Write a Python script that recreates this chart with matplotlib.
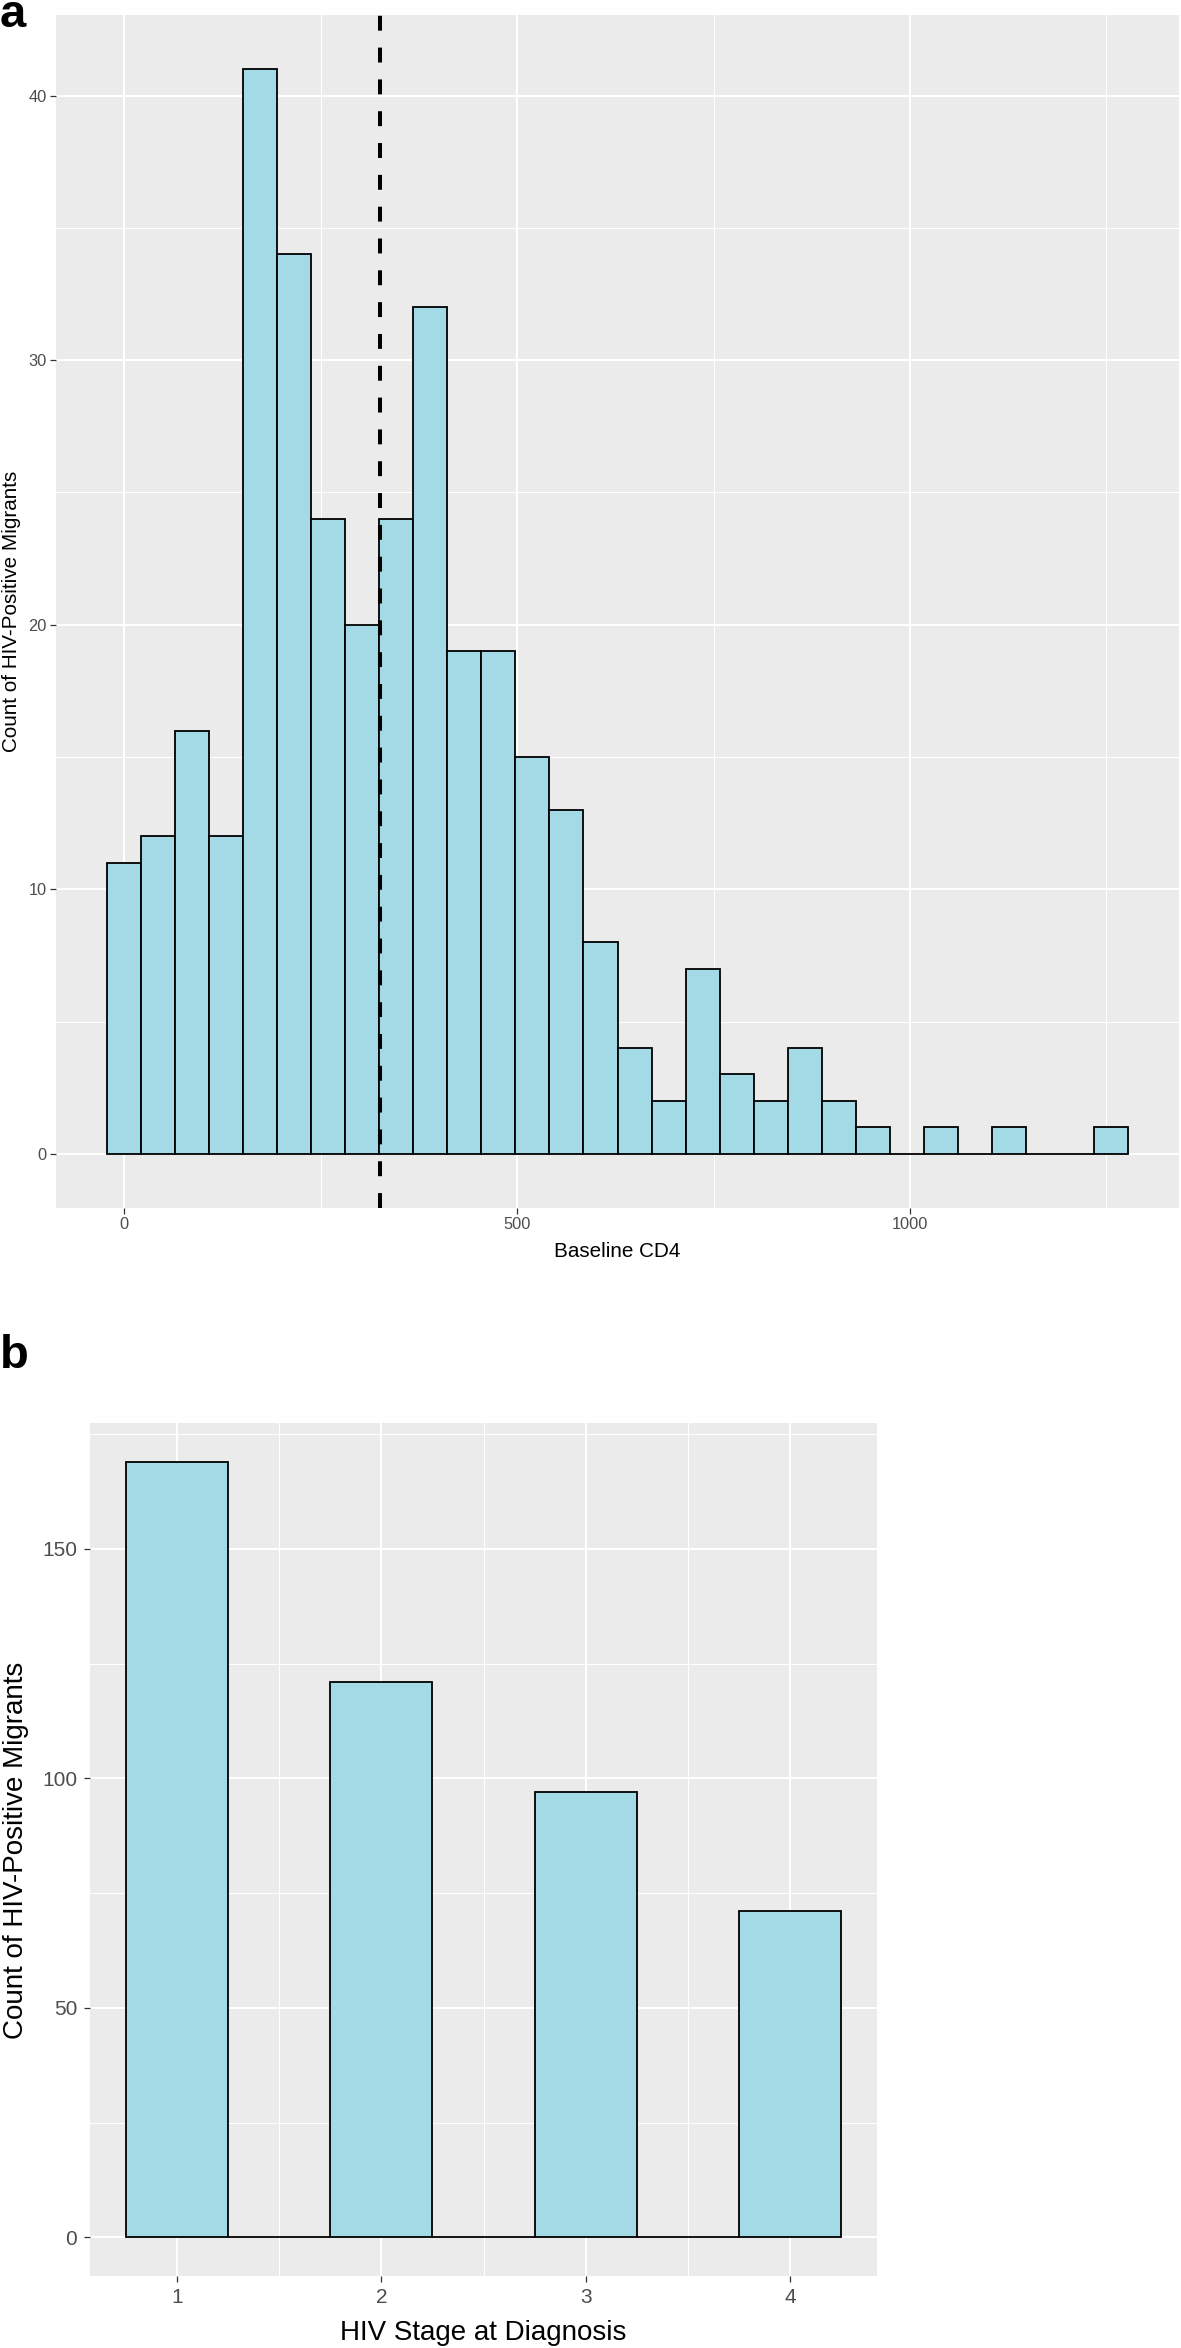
import numpy as np
import matplotlib
matplotlib.use('Agg')  # no display
import matplotlib.pyplot as plt
from matplotlib.ticker import MultipleLocator

plt.rcParams['font.family'] = ['Liberation Sans', 'DejaVu Sans']

# panel a: baseline CD4 histogram (30 bins, centres on multiples of the width)
cd4_bin_width = 43.3
cd4_counts = [11, 12, 16, 12, 41, 34, 24, 20, 24, 32, 19, 19, 15, 13, 8,
              4, 2, 7, 3, 2, 4, 2, 1, 0, 1, 0, 1, 0, 0, 1]
cd4_median = 326

# panel b: HIV stage at diagnosis (histogram, binwidth 0.5)
stage_bins = [1, 1.5, 2, 2.5, 3, 3.5, 4]
stage_counts = [169, 0, 121, 0, 97, 0, 71]
stage_bin_width = 0.5

FILL = '#A4D9E6'
PANEL = '#EBEBEB'
W, H = 1181, 2348


def fx(x):
    return x / W


def fy(y):
    return 1 - y / H


def gg_style(ax, tick_size, pad_x, pad_y):
    ax.set_facecolor(PANEL)
    for s in ax.spines.values():
        s.set_visible(False)
    ax.grid(which='major', color='white', linewidth=1.5)
    ax.grid(which='minor', color='white', linewidth=0.75)
    ax.set_axisbelow(True)
    ax.tick_params(which='major', length=4.3, width=0.9, color='#333333',
                   labelcolor='#4D4D4D', labelsize=tick_size)
    ax.tick_params(axis='x', which='major', pad=pad_x)
    ax.tick_params(axis='y', which='major', pad=pad_y)
    ax.tick_params(which='minor', length=0)


def expand(lo, hi, frac=0.05):
    d = (hi - lo) * frac
    return lo - d, hi + d


fig = plt.figure(figsize=(W / 100, H / 100), dpi=100)

# ---- panel a
ax1 = fig.add_axes([fx(56), fy(1208), fx(1179) - fx(56), fy(15) - fy(1208)])
edges = cd4_bin_width * (np.arange(len(cd4_counts)) - 0.5)
ax1.bar(edges, cd4_counts, width=cd4_bin_width, align='edge', color=FILL,
        edgecolor='black', linewidth=1.3, zorder=2)
ax1.axvline(cd4_median, color='black', linestyle=(0, (3.7, 4.2)),
            linewidth=2.9, zorder=3)
ax1.set_xlim(*expand(edges[0], edges[-1] + cd4_bin_width))
ax1.set_ylim(*expand(0, max(cd4_counts)))
ax1.xaxis.set_major_locator(MultipleLocator(500))
ax1.xaxis.set_minor_locator(MultipleLocator(250))
ax1.yaxis.set_major_locator(MultipleLocator(10))
ax1.yaxis.set_minor_locator(MultipleLocator(5))
gg_style(ax1, 11.8, 2.2, 2.2)

fig.text(fx(617), fy(1257), 'Baseline CD4', ha='center', va='baseline',
         fontsize=14.9)
fig.text(fx(12), fy(611), 'Count of HIV-Positive Migrants', rotation=90,
         ha='center', va='center', fontsize=14.9)
fig.text(0, fy(27), 'a', ha='left', va='baseline', fontsize=34,
         fontweight='bold')

# ---- panel b
ax2 = fig.add_axes([fx(90), fy(2276), fx(877) - fx(90), fy(1423) - fy(2276)])
ax2.bar(stage_bins, stage_counts, width=stage_bin_width, color=FILL,
        edgecolor='black', linewidth=1.3, zorder=2)
ax2.set_xlim(*expand(stage_bins[0] - stage_bin_width / 2,
                     stage_bins[-1] + stage_bin_width / 2))
ax2.set_ylim(*expand(0, max(stage_counts)))
ax2.xaxis.set_major_locator(MultipleLocator(1))
ax2.xaxis.set_minor_locator(MultipleLocator(0.5))
ax2.yaxis.set_major_locator(MultipleLocator(50))
ax2.yaxis.set_minor_locator(MultipleLocator(25))
gg_style(ax2, 15, 4.3, 5)

fig.text(fx(483), fy(2340), 'HIV Stage at Diagnosis', ha='center',
         va='baseline', fontsize=20)
fig.text(fx(16), fy(1850), 'Count of HIV-Positive Migrants', rotation=90,
         ha='center', va='center', fontsize=20)
fig.text(0, fy(1368), 'b', ha='left', va='baseline', fontsize=34,
         fontweight='bold')

fig.savefig('out.png', dpi=100)
